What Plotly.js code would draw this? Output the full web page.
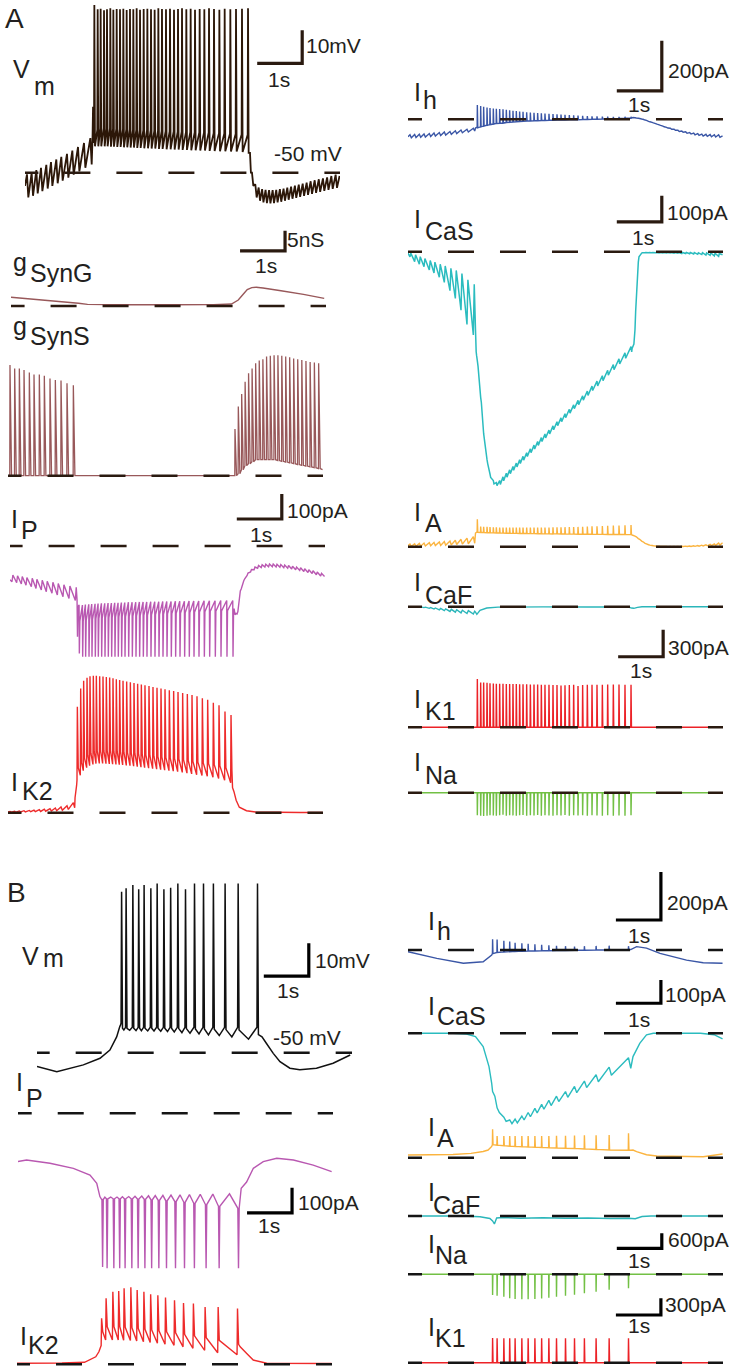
<!DOCTYPE html>
<html><head><meta charset="utf-8">
<script src="https://cdn.plot.ly/plotly-3.0.1.min.js"></script>
<style>html,body{margin:0;padding:0;background:#fff}</style>
</head><body><div id="chart" style="width:737px;height:1369px"></div>
<script>
// ---------- shared event times (s) ----------
const spikeTimesA = [1.541,1.615,1.681,1.756,1.822,1.896,1.963,2.037,2.111,2.185,2.259,2.333,2.407,2.481,2.556,2.637,2.719,2.800,2.881,2.963,3.044,3.133,3.222,3.311,3.400,3.489,3.585,3.681,3.778,3.881,3.985,4.089,4.200,4.319,4.437,4.563,4.689,4.822,4.956];
const synPreA = [0.044,0.148,0.252,0.356,0.474,0.578,0.696,0.807,0.933,1.052,1.178,1.311,1.452];
const synPostA = [5.044,5.118,5.193,5.269,5.346,5.424,5.503,5.583,5.664,5.746,5.829,5.913,5.998,6.084,6.171,6.259,6.348,6.438,6.529,6.621,6.714,6.808,6.903];
const spikeTimesB = [1.88,1.98,2.13,2.26,2.38,2.53,2.67,2.82,2.97,3.13,3.30,3.50,3.70,3.92,4.18,4.47,4.90];
const midTimesB = [1.93,2.06,2.20,2.32,2.46,2.60,2.75,2.90,3.05,3.22,3.40,3.60,3.81,4.05,4.33,4.70];

// ---------- Panel A : Vm (mV) ----------
const vmA_preA = [-50.5,-50,-49.2,-48.5,-47.6,-46.8,-46,-45.2,-44.3,-43.3,-42.2,-41,-39.5];
const vmA_preB = [-57.5,-57,-56.3,-55.6,-54.8,-54,-53.2,-52.4,-51.5,-50.6,-49.6,-48.5,-47.5];
const vmA_peak = [0.8,-0.5,-0.3,-0.8,-0.5,-0.2,-0.6,-0.4,-0.5,-0.3,-0.7,-0.4,-0.5,-0.2,-0.6,-0.4,-0.3,-0.5,-0.6,-0.2,-0.4,-0.5,-0.3,-0.6,-0.4,-0.2,-0.5,-0.3,-0.6,-0.4,-0.5,-0.2,-0.4,-0.6,-0.3,-0.5,-0.4,-0.3,-0.2];
const vmA_base = [-40,-37,-36.5,-36.5,-36.6,-36.6,-36.7,-36.7,-36.8,-36.8,-36.9,-36.9,-37,-37,-37.1,-37.1,-37.2,-37.2,-37.3,-37.3,-37.4,-37.4,-37.5,-37.5,-37.6,-37.6,-37.7,-37.7,-37.8,-37.8,-37.9,-37.9,-38,-38,-38.1,-38.2,-38.3,-38.4,-38.5];
const vmA_after = [-42,-42,-42,-42,-42,-42.1,-42.1,-42.2,-42.2,-42.3,-42.3,-42.4,-42.4,-42.5,-42.5,-42.6,-42.6,-42.7,-42.7,-42.8,-42.8,-42.9,-42.9,-43,-43,-43.1,-43.1,-43.2,-43.2,-43.3,-43.3,-43.4,-43.4,-43.5,-43.5,-43.6,-43.6,-43.7,-44];
const vmA_postA = [-50,-53.5,-54.5,-55,-55.2,-55.3,-55.3,-55.2,-55,-54.8,-54.5,-54.2,-53.9,-53.6,-53.3,-53,-52.6,-52.3,-52,-51.7,-51.4,-51,-50.6];
const vmA_postB = [-54,-57.5,-58.5,-59,-59.2,-59.3,-59.2,-59,-58.8,-58.5,-58.2,-57.9,-57.6,-57.3,-57,-56.7,-56.4,-56.1,-55.8,-55.5,-55.2,-54.9,-54.6];

// ---------- Panel A : Ih (pA) ----------
const ihA_preA = [-62,-61,-60,-59,-57,-55,-53,-51,-49,-46,-43,-40,-36];
const ihA_preB = [-74,-73,-72,-71,-69,-67,-65,-63,-60,-57,-54,-51,-47];
const ihA_peak = [57,53,50,47,45,43,42,41,40,38,36,34,33,31,30,28,27,26,25,24,23,22,21,20,19,18,17,16,15,14,13,12,12,11,11,10,10,10,10];
const ihA_base = [-34,-30,-27,-24,-21,-19,-17,-16,-15,-13,-12,-11,-10,-9,-8,-7,-6.5,-6,-5.5,-5,-4.5,-4,-3.5,-3,-3,-2.5,-2,-2,-1.5,-1,-1,0,0,1,1,2,3,4,5];
const ihA_postA = [6,4,1,-3,-8,-12,-17,-22,-27,-32,-36,-40,-44,-47,-50,-53,-55,-57,-59,-60,-61,-62,-62];
const ihA_postB = [5,3,0,-4,-10,-14,-19,-24,-30,-35,-40,-44,-49,-52,-56,-59,-62,-64,-67,-68,-70,-71,-72];

// ---------- Panel A : gSynG, gSynS (nS) ----------
const gG_t = [0,0.5,1.0,1.5,1.7,2.5,3.5,4.5,4.9,5.05,5.15,5.25,5.35,5.45,5.6,6.0,6.5,6.96];
const gG_v = [2.2,1.7,1.2,0.7,0.4,0.3,0.3,0.35,0.5,1.5,2.8,4.1,4.6,4.7,4.5,3.8,2.9,1.9];
const gS_prePeak = [27.7,26.8,26.8,26.4,25.8,25.3,25.3,25,24.3,23.9,23.8,23.1,22.6];
const gS_postPeak = [11.7,17.3,20.4,23.5,25.6,26.8,28.1,28.8,29.1,29.8,30,30.1,30.1,30,29.8,29.6,29.3,29.1,28.9,28.7,28.4,28.3,28.1];
const gS_postLow = [0,0.5,1.5,2.5,3,3.5,4,4,4,4,4,4,3.8,3.6,3.4,3.2,3,2.8,2.6,2.4,2.2,2,1.8];

// ---------- Panel A : ICaS (pA) ----------
const icasA_preA = [-20,-38,-48,-58,-70,-82,-98,-118,-150,-180,-225,-280,-320];
const icasA_preB = [-6,-12,-19,-26,-34,-40,-48,-55,-64,-72,-84,-108,-125];
const icasA_a = [-420,-560,-700,-800,-855,-880,-888,-880,-866,-852,-839,-826,-813,-800,-787,-773,-758,-744,-730,-715,-701,-686,-670,-654,-639,-623,-606,-589,-572,-554,-536,-517,-498,-477,-456,-434,-412,-389,-365];
const icasA_b = [-440,-580,-720,-815,-868,-893,-900,-895,-881,-867,-854,-841,-828,-815,-802,-788,-773,-759,-745,-730,-716,-701,-685,-669,-654,-638,-621,-604,-588,-571,-553,-534,-516,-496,-475,-454,-432,-410,-385];
const icasA_postA = [-300,-40,-5,-4,-4,-4,-4,-5,-5,-5,-5,-6,-6,-7,-7,-8,-9,-10,-11,-13,-14,-16,-18];
const icasA_postB = [-230,-20,-4,-3,-3,-3,-3,-3,-3,-3,-3,-3,-3,-3,-3,-3,-3,-4,-4,-5,-5,-6,-7];

// ---------- Panel A : IP (pA) ----------
const ipA_preA = [-143,-147,-152,-157,-163,-170,-176,-183,-189,-196,-203,-210,-218];
const ipA_preB = [-116,-119,-122,-126,-129,-133,-137,-141,-145,-150,-155,-160,-165];
const ipA_base = [-238,-236,-234,-233,-232,-231,-230,-229,-229,-228,-228,-227,-227,-226,-226,-225,-225,-225,-224,-224,-224,-223,-223,-223,-222,-222,-222,-221,-221,-221,-220,-220,-220,-219,-219,-219,-218,-218,-218];
const ipA_peak = [-430,-443,-443,-443,-443,-443,-443,-443,-443,-443,-443,-443,-443,-443,-443,-443,-443,-443,-443,-443,-443,-443,-443,-443,-443,-443,-443,-443,-443,-443,-443,-443,-443,-443,-443,-443,-443,-443,-443];
const ipA_after = [-300,-300,-298,-296,-294,-292,-290,-289,-288,-287,-286,-285,-284,-283,-282,-281,-280,-279,-278,-277,-276,-275,-274,-273,-272,-271,-270,-269,-268,-267,-266,-265,-264,-263,-262,-261,-260,-259,-258];
const ipA_postA = [-272,-180,-140,-118,-104,-95,-89,-86,-84,-83,-83,-84,-85,-87,-89,-92,-95,-98,-102,-106,-110,-115,-120];
const ipA_postB = [-262,-172,-132,-108,-94,-84,-78,-75,-73,-72,-72,-73,-74,-76,-78,-81,-84,-87,-91,-95,-99,-104,-109];

// ---------- Panel A : IK2 (pA) ----------
const ik2A_preA = [5,6,7,8,9,10,12,14,16,19,23,28,40];
const ik2A_preB = [2,2,3,3,4,4,5,6,7,8,10,13,20];
const ik2A_peak = [424,497,528,540,546,548,548,546,545,543,541,538,534,531,528,525,522,519,516,513,510,507,503,500,497,494,490,487,483,479,475,471,466,458,452,440,430,405,391];
const ik2A_base = [130,150,168,180,188,193,196,197,197,196,195,194,193,192,191,189,188,186,184,182,180,178,176,174,172,170,168,166,164,161,158,155,152,149,146,142,137,130,120];
const ik2A_after = [180,200,218,230,238,243,246,247,247,246,245,244,243,242,241,239,238,236,234,232,230,228,226,224,222,220,218,216,214,211,208,205,202,199,196,192,187,180,170];
const ik2A_postT = [4.99,5.02,5.07,5.14,5.3,5.5,6.0,6.5,6.99];
const ik2A_postV = [100,85,50,22,8,3,2,1,1];

// ---------- Panel A : IA, ICaF, IK1, INa (pA) ----------
const iaA_preA = [30,33,36,40,44,48,53,58,64,72,82,95,111];
const iaA_preB = [4,5,6,8,10,12,14,17,20,24,28,33,38];
const iaA_peak = [304,225,222,220,218,216,215,214,214,213,213,212,212,212,212,212,212,213,213,213,214,214,215,215,216,217,218,219,220,222,224,226,228,230,232,234,236,238,240];
const iaA_base = [160,158,157,156,155,154,153,152,151,150,149,148,148,147,146,146,145,145,144,144,143,143,142,142,141,141,140,140,139,139,138,138,137,137,136,136,135,135,134];
const iaA_postA = [118,90,62,38,22,13,8,5,4,3,3,3,4,5,6,8,10,13,17,21,26,32,40];
const iaA_postB = [110,82,55,32,18,10,6,3,2,1,1,1,1,2,2,3,4,6,8,10,12,15,18];
const icafA_preA = [0,-1,-4,-10,-18,-26,-35,-44,-53,-61,-69,-76,-82];
const icafA_preB = [0,0,-2,-5,-9,-14,-19,-24,-29,-34,-39,-44,-50];
const icafA_t = [1.50,1.53,1.6,1.75,2.0,3.0,4.0,4.9,4.97,5.02,5.1,5.2,7.0];
const icafA_v = [-60,-85,-40,-15,-5,-2,-3,-4,-15,-18,-8,-1,0];
const ik1A_peak = [537,498,498,495,490,487,485,484,483,482,481,480,480,479,478,477,476,475,475,474,473,472,471,470,465,468,470,472,460,470,472,473,474,472,475,476,475,474,472];
const inaA_peak = [-250,-255,-258,-255,-250,-252,-255,-250,-245,-255,-250,-252,-255,-250,-248,-255,-250,-252,-248,-255,-250,-252,-255,-250,-252,-248,-255,-250,-253,-250,-255,-250,-252,-255,-250,-255,-252,-255,-250];

// ---------- Panel B ----------
const vmB_preT = [0,0.44,1.03,1.40,1.62,1.77,1.84,1.86];
const vmB_preV = [-54.2,-55.8,-53.7,-51.7,-49.2,-45.2,-42.1,-41.5];
const vmB_peak = [-1.2,-0.2,0.8,-0.5,0.8,-0.2,1.3,-0.5,0,1.3,-0.5,1.3,1.3,1.3,1.3,1.3,1.3];
const vmB_base = [-41,-42.3,-42.3,-42.3,-42.3,-42.3,-42.3,-42.3,-42.3,-42.3,-42.3,-42.3,-42.3,-42.3,-42.3,-42.3,-42.3];
const vmB_after = [-42.6,-42.6,-42.6,-42.6,-42.6,-42.6,-42.6,-42.6,-42.6,-42.7,-42.7,-42.8,-42.8,-42.9,-43,-43.1,-44.5];
const vmB_midV = [-43.1,-43.2,-43.3,-43.3,-43.4,-43.4,-43.5,-43.6,-43.7,-43.9,-44.1,-44.3,-44.6,-44.8,-45.2,-45.9];
const vmB_postT = [5.0,5.1,5.25,5.4,5.62,5.84,6.21,6.58,6.96];
const vmB_postV = [-45.2,-47.2,-50.2,-52.7,-54.7,-55.2,-54.7,-53.2,-50.7];

const ipB_preT = [0,0.19,0.71,1.23,1.6,1.75,1.82,1.86];
const ipB_preV = [-193,-187,-200,-220,-247,-280,-333,-345];
const ipB_peak = [-615,-620,-620,-620,-620,-620,-620,-620,-620,-620,-620,-620,-620,-620,-620,-620,-620];
const ipB_base = [-345,-342,-342,-342,-342,-342,-343,-344,-346,-348,-350,-353,-356,-360,-365,-372,-380];
const ipB_midV = [-335,-335,-335,-334,-333,-332,-331,-330,-329,-328,-327,-326,-325,-324,-323,-322];
const ipB_postT = [4.96,5.08,5.23,5.45,5.75,6.12,6.56,6.97];
const ipB_postV = [-300,-275,-220,-193,-180,-187,-207,-233];

const ik2B_preT = [0,1.0,1.5,1.75,1.82,1.86];
const ik2B_preV = [4,5,8,30,50,70];
const ik2B_peak = [184,264,290,293,304,308,297,290,280,276,267,256,245,243,229,229,223];
const ik2B_base = [75,97,97,97,96,95,93,90,87,84,80,76,70,64,56,46,38];
const ik2B_after = [130,150,150,150,148,146,143,140,137,134,130,126,120,114,106,96,80];
const ik2B_postT = [4.96,5.1,5.25,5.55,6.99];
const ik2B_postV = [70,44,17,4,3];

const ihB_preT = [0,0.64,1.23,1.67,1.86];
const ihB_preV = [-7,-35,-55,-49,-21];
const ihB_peak = [45,44,38,35,30,28,26,24,22,20,18,16,14,16,17,18,16];
const ihB_base = [-15,-10,-8,-7,-6,-5,-4,-4,-3,-3,-2,-2,-1,-1,0,0,1];
const ihB_postT = [4.95,5.08,5.3,5.6,6.19,6.56,6.99];
const ihB_postV = [2,14,8,-14,-42,-53,-55];

const icasB_preT = [0,1.0,1.3,1.5,1.67,1.8,1.86];
const icasB_preV = [0,0,-3,-14,-57,-143,-215];
const icasB_a = [-250,-320,-360,-372,-368,-355,-340,-322,-305,-288,-270,-250,-228,-205,-178,-145,-105];
const icasB_b = [-270,-340,-378,-388,-385,-372,-358,-342,-326,-310,-293,-275,-255,-233,-208,-180,-150];
const icasB_postT = [5.0,5.15,5.3,5.45,6.5,6.8,6.99];
const icasB_postV = [-100,-43,-7,0,0,-6,-24];

const iaB_preT = [0,1.0,1.4,1.67,1.78,1.86];
const iaB_preV = [108,130,173,250,307,450];
const iaB_peak = [1133,870,867,867,867,867,867,867,867,867,873,880,887,893,900,907,973];
const iaB_base = [520,500,480,460,450,440,430,420,410,400,390,380,370,350,330,310,300];
const iaB_postT = [4.95,5.0,5.08,5.3,5.53,6.56,6.99];
const iaB_postV = [300,307,240,120,67,40,150];

const icafB_t = [0,1.2,1.6,1.82,1.88,1.92,1.97,2.1,2.5,3.0,3.5,4.0,4.5,4.9,5.05,5.2,5.4,7.0];
const icafB_v = [0,0,-30,-100,-200,-320,-80,-60,-90,-70,-90,-80,-100,-90,-110,-20,0,0];
const inaB_peak = [-830,-860,-900,-960,-990,-1000,-1000,-990,-970,-940,-900,-860,-820,-760,-700,-620,-560];
const ik1B_peak = [440,435,435,435,435,435,435,435,435,435,435,435,435,435,435,435,435];

// ---------- builder ----------
function val(a,i){ return Array.isArray(a) ? a[i] : a; }
function build(pieces){
  const x=[], y=[];
  for(const p of pieces){
    if(p.k==='pts'){ p.t.forEach((t,i)=>{ x.push(t); y.push(p.v[i]); }); }
    else if(p.k==='saw'){ p.ev.forEach((t,i)=>{ x.push(t); y.push(p.a[i]); x.push(t+p.w); y.push(p.b[i]); }); }
    else { const aft = (p.after!==undefined) ? p.after : p.base;
      p.ev.forEach((t,i)=>{
        x.push(t-p.w1); y.push(val(p.base,i)); x.push(t); y.push(p.peak[i]); x.push(t+p.w2); y.push(val(aft,i));
        if(p.midT && i<p.midT.length){ x.push(p.midT[i]); y.push(p.midV[i]); }
      }); }
  }
  return {x,y};
}
const pts=(t,v)=>({k:'pts',t,v});
const saw=(ev,a,b,w)=>({k:'saw',ev,a,b,w});
const spk=(ev,peak,base,w1,w2,after,midT,midV)=>({k:'spk',ev,peak,base,w1,w2,after,midT,midV});

// ---------- geometry ----------
const W=737, H=1369, PXS=45, TMAX=7;
// n: [xLeft, refPx, refVal, pxPerUnit, bandTop, bandBot]
const geo = {
 1:[25,172.7,-50,3.3,0,215], 2:[11,306,0,4,225,318], 3:[8,475.7,0,4,335,488],
 4:[10,546,0,0.25,488,665], 5:[8,812.7,0,0.25,665,828],
 6:[408,119.3,0,0.25,30,152], 7:[408,251.7,0,0.26,188,495], 8:[408,546.7,0,0.09,495,562],
 9:[408,606.7,0,0.09,568,622], 10:[408,727.3,0,0.09,620,738], 11:[408,792.7,0,0.09,755,828],
 12:[37,1052.7,-50,3.3,868,1082], 13:[18,1113.3,0,0.25,1098,1278], 14:[17,1364.3,0,0.25,1180,1369],
 15:[408,950,0,0.24,862,977], 16:[408,1033.3,0,0.233,975,1132], 17:[408,1157.7,0,0.025,1118,1168],
 18:[408,1216,0,0.025,1178,1232], 19:[408,1274.3,0,0.025,1225,1306], 20:[408,1362.7,0,0.056,1288,1369]
};
const C = {vmA:'#2c1708', ih:'#3a56a6', g:'#98585a', cas:'#2bbcbf', ip:'#b958b1', k2:'#ee2b2b', a:'#fbb43f', caf:'#2bb6ba', k1:'#ec2227', na:'#72c044', vmB:'#111111'};

const traceDefs = [
 [1, C.vmA, 1.8, [pts([0],[-54]), saw(synPreA,vmA_preA,vmA_preB,0.03), pts([1.50,1.512,1.525],[-40,-30,-41]), spk(spikeTimesA,vmA_peak,vmA_base,0.008,0.014,vmA_after), pts([5.0,5.02],[-44,-50]), saw(synPostA,vmA_postA,vmA_postB,0.03), pts([6.99],[-51])]],
 [6, C.ih, 1.4, [pts([0],[-70]), saw(synPreA,ihA_preA,ihA_preB,0.03), pts([1.50,1.525],[-35,-32]), spk(spikeTimesA,ihA_peak,ihA_base,0.004,0.01), pts([5.0],[7]), saw(synPostA,ihA_postA,ihA_postB,0.03), pts([6.99],[-66])]],
 [2, C.g, 1.4, [pts(gG_t,gG_v)]],
 [3, C.g, 1.3, [pts([0],[0]), spk(synPreA,gS_prePeak,0,0.004,0.035), pts([1.5,5.0],[0,0]), spk(synPostA,gS_postPeak,gS_postLow,0.004,0.035), pts([6.99],[1.5])]],
 [7, C.cas, 1.5, [pts([0],[-5]), saw(synPreA,icasA_preA,icasA_preB,0.02), pts([1.50,1.515,1.525],[-300,-385,-400]), saw(spikeTimesA,icasA_a,icasA_b,0.015), pts([4.98,5.02],[-372,-355]), saw(synPostA,icasA_postA,icasA_postB,0.015), pts([6.99],[-12])]],
 [4, C.ip, 1.4, [pts([0],[-135]), saw(synPreA,ipA_preA,ipA_preB,0.02), pts([1.49,1.50,1.51,1.525],[-215,-363,-250,-238]), spk(spikeTimesA,ipA_peak,ipA_base,0.006,0.012,ipA_after), pts([4.98,5.0,5.02],[-250,-275,-270]), saw(synPostA,ipA_postA,ipA_postB,0.02), pts([6.99],[-122])]],
 [5, C.k2, 1.4, [pts([0],[3]), saw(synPreA,ik2A_preA,ik2A_preB,0.03), pts([1.49,1.525],[60,110]), spk(spikeTimesA,ik2A_peak,ik2A_base,0.008,0.02,ik2A_after), pts(ik2A_postT,ik2A_postV)]],
 [8, C.a, 1.4, [pts([0],[10]), saw(synPreA,iaA_preA,iaA_preB,0.03), pts([1.50,1.525],[150,160]), spk(spikeTimesA,iaA_peak,iaA_base,0.005,0.01), pts([4.98],[130]), saw(synPostA,iaA_postA,iaA_postB,0.03), pts([6.99],[44])]],
 [9, C.caf, 1.4, [pts([0],[0]), saw(synPreA,icafA_preA,icafA_preB,0.03), pts(icafA_t,icafA_v)]],
 [10, C.k1, 1.4, [pts([0,1.52],[0,0]), spk(spikeTimesA,ik1A_peak,0,0.006,0.01), pts([5.0,7.0],[0,0])]],
 [11, C.na, 1.4, [pts([0,1.52],[0,0]), spk(spikeTimesA,inaA_peak,0,0.004,0.008), pts([5.0,7.0],[0,0])]],
 [12, C.vmB, 1.5, [pts(vmB_preT,vmB_preV), spk(spikeTimesB,vmB_peak,vmB_base,0.012,0.02,vmB_after,midTimesB,vmB_midV), pts(vmB_postT,vmB_postV)]],
 [13, C.ip, 1.4, [pts(ipB_preT,ipB_preV), spk(spikeTimesB,ipB_peak,ipB_base,0.015,0.015,ipB_base,midTimesB,ipB_midV), pts(ipB_postT,ipB_postV)]],
 [14, C.k2, 1.4, [pts(ik2B_preT,ik2B_preV), spk(spikeTimesB,ik2B_peak,ik2B_base,0.01,0.025,ik2B_after), pts(ik2B_postT,ik2B_postV)]],
 [15, C.ih, 1.4, [pts(ihB_preT,ihB_preV), spk(spikeTimesB,ihB_peak,ihB_base,0.004,0.008), pts(ihB_postT,ihB_postV)]],
 [16, C.cas, 1.4, [pts(icasB_preT,icasB_preV), saw(spikeTimesB,icasB_a,icasB_b,0.05), pts(icasB_postT,icasB_postV)]],
 [17, C.a, 1.4, [pts(iaB_preT,iaB_preV), spk(spikeTimesB,iaB_peak,iaB_base,0.005,0.01), pts(iaB_postT,iaB_postV)]],
 [18, C.caf, 1.4, [pts(icafB_t,icafB_v)]],
 [19, C.na, 1.4, [pts([0,1.86],[0,0]), spk(spikeTimesB,inaB_peak,0,0.004,0.006), pts([4.95,7.0],[0,0])]],
 [20, C.k1, 1.4, [pts([0,1.86],[0,0]), spk(spikeTimesB,ik1B_peak,0,0.006,0.01), pts([4.95,7.0],[0,0])]]
];

const sfx = n => n===1 ? '' : String(n);
const layout = {width:W, height:H, margin:{l:0,r:0,t:0,b:0}, showlegend:false,
  paper_bgcolor:'#ffffff', plot_bgcolor:'rgba(0,0,0,0)', shapes:[], annotations:[]};
for(const n in geo){
  const [xl, rp, rv, s, bt, bb] = geo[n];
  layout['xaxis'+sfx(+n)] = {domain:[xl/W,(xl+PXS*TMAX)/W], range:[0,TMAX], visible:false, anchor:'y'+sfx(+n), fixedrange:true};
  layout['yaxis'+sfx(+n)] = {domain:[1-bb/H,1-bt/H], range:[rv-(bb-rp)/s, rv+(rp-bt)/s], visible:false, anchor:'x'+sfx(+n), fixedrange:true};
}
const data = traceDefs.map(([n,color,w,pieces])=>{
  const d = build(pieces);
  return {x:d.x, y:d.y, xaxis:'x'+sfx(n), yaxis:'y'+sfx(n), type:'scatter', mode:'lines',
          line:{color, width:w, simplify:false}, hoverinfo:'skip'};
});

// dashed reference lines: [axis, value, dash phase start (s), colour]
const DA='#2a1a10', DB='#151515';
const dashes = [[1,-50,-0.28,DA],[2,0,-0.276,DA],[3,0,-0.278,DA],[4,0,-0.298,DA],[5,0,-0.278,DA],
 [6,0,-0.267,DA],[7,0,-0.267,DA],[8,0,-0.267,DA],[9,0,-0.267,DA],[10,0,-0.267,DA],[11,0,-0.267,DA],
 [12,-50,-0.296,DB],[13,0,-0.273,DB],[14,0,-0.289,DB],[15,0,-0.267,DB],[16,0,-0.267,DB],[17,0,-0.267,DB],
 [18,0,-0.267,DB],[19,0,-0.267,DB],[20,0,-0.267,DB]];
dashes.forEach(([n,v,t0,c])=>layout.shapes.push({type:'line', xref:'x'+sfx(n), yref:'y'+sfx(n), x0:t0, x1:TMAX+0.3, y0:v, y1:v,
  line:{color:c, width:2.5, dash:'26px,26px'}, layer:'above'}));

// scale bars: [axis, t0, y0, vertical size, colour]  (1 s horizontal)
const bars = [[1,5.16,-16.85,10,DA],[2,5.09,13.8,5,DA],[4,5.04,108,100,DA],[6,4.64,114,200,DA],[7,4.64,115,100,DA],[10,4.67,784,300,DA],
 [12,5.04,-26.8,10,'#000'],[13,5.09,-398,100,'#000'],[15,4.62,125,200,'#000'],[16,4.62,129,100,'#000'],[19,4.64,1040,600,'#000'],[20,4.62,852,300,'#000']];
bars.forEach(([n,t0,y0,dy,c])=>layout.shapes.push({type:'path', xref:'x'+sfx(n), yref:'y'+sfx(n),
  path:`M${t0},${y0} L${t0+1},${y0} L${t0+1},${y0+dy}`, line:{color:c, width:3.2}, layer:'above'}));

// labels: [text, x px, baseline px, size]
const FONT = 'Liberation Sans, Arial, sans-serif';
const L=25, S=21;
const labels = [
 ['A',5,28,28],['B',7,902,28],
 ['V',13,78,L],['m',34,95,L],['g',13,271,L],['SynG',30,282,L],['g',13,335,L],['SynS',30,345,L],
 ['I',11,528,L],['P',21,539,L],['I',11,791,L],['K2',22,800,L],
 ['I',414,101,L],['h',423,109,L],['I',414,228,L],['CaS',425,240,L],['I',414,521,L],['A',425,532,L],
 ['I',414,591,L],['CaF',425,604,L],['I',414,708,L],['K1',425,720,L],['I',414,771,L],['Na',425,784,L],
 ['V',22,965,L],['m',43,967,L],['I',16,1091,L],['P',26,1107,L],['I',20,1345,L],['K2',28,1354,L],
 ['I',428,930,L],['h',437,940,L],['I',428,1015,L],['CaS',437,1025,L],['I',428,1136,L],['A',437,1147,L],
 ['I',428,1201,L],['CaF',433,1214,L],['I',428,1253,L],['Na',435,1264,L],['I',428,1336,L],['K1',435,1347,L],
 ['10mV',306,53,S],['1s',268,87,S],['-50 mV',274,161,S],['5nS',287,247,S],['1s',255,273,S],
 ['100pA',287,518,S],['1s',250,542,S],['200pA',668,78,S],['1s',628,112,S],['100pA',667,220,S],['1s',632,245,S],
 ['300pA',668,655,S],['1s',630,678,S],
 ['10mV',315,968,S],['1s',277,998,S],['-50 mV',273,1045,S],['100pA',298,1210,S],['1s',258,1233,S],
 ['200pA',667,910,S],['1s',628,943,S],['100pA',665,1002,S],['1s',628,1027,S],
 ['600pA',668,1247,S],['1s',628,1268,S],['300pA',665,1312,S],['1s',628,1333,S]
];
labels.forEach(([t,x,b,sz])=>layout.annotations.push({text:t, x:x/W, y:1-(b-0.35*sz)/H, xref:'paper', yref:'paper',
  xanchor:'left', yanchor:'middle', showarrow:false, borderpad:0, borderwidth:0, font:{family:FONT, size:sz, color:'#231f20'}}));

Plotly.newPlot('chart', data, layout, {staticPlot:true, displayModeBar:false});
</script></body></html>
